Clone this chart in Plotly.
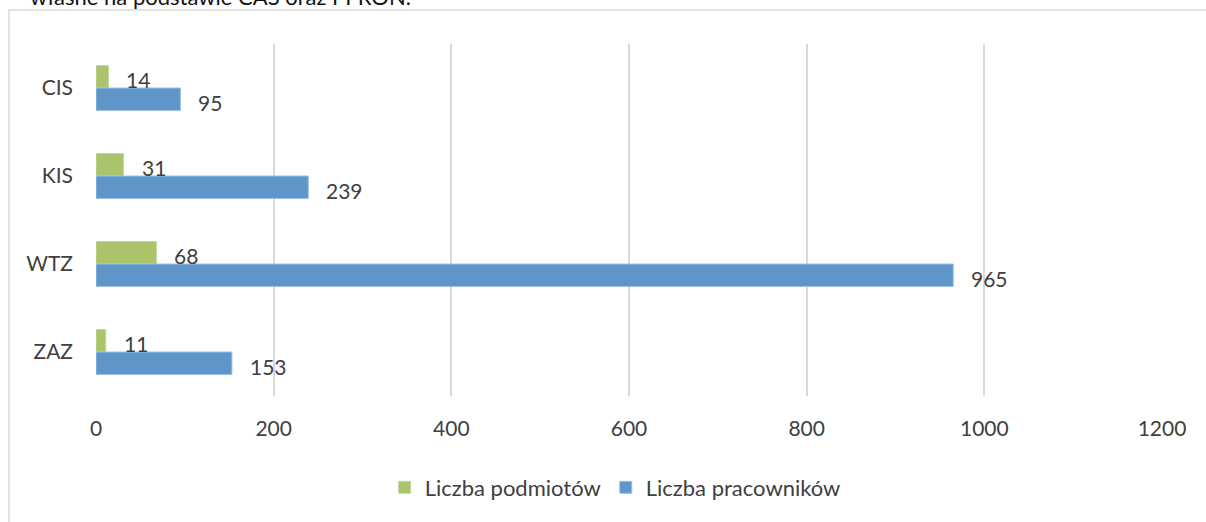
import plotly.graph_objects as go

# Data
categories = ["CIS", "KIS", "WTZ", "ZAZ"]
podmioty = [14, 31, 68, 11]
pracownicy = [95, 239, 965, 153]
x_ticks = [0, 200, 400, 600, 800, 1000, 1200]

GREEN = "#A9C46B"
BLUE = "#5F96CA"
TXT = "#404040"
FONT = "Lato, Open Sans, sans-serif"
FS = 21

W, H = 1206, 522
ML, MR, MT, MB = 96, 44, 44, 126
PW, PH = W - ML - MR, H - MT - MB

fig = go.Figure()
fig.add_trace(go.Bar(
    y=categories, x=podmioty, orientation="h", name="Liczba podmiotów",
    marker=dict(color=GREEN, line=dict(color="#C4D89A", width=1)),
))
fig.add_trace(go.Bar(
    y=categories, x=pracownicy, orientation="h", name="Liczba pracowników",
    marker=dict(color=BLUE, line=dict(color="#9DC0E2", width=1)),
))

# Value labels just past the end of each bar
annotations = []
for cat, v in zip(categories, podmioty):
    annotations.append(dict(x=v, y=cat, xref="x", yref="y", text=str(v),
                            showarrow=False, xanchor="left", yanchor="middle",
                            xshift=16, yshift=9,
                            font=dict(family=FONT, size=FS, color=TXT)))
for cat, v in zip(categories, pracownicy):
    annotations.append(dict(x=v, y=cat, xref="x", yref="y", text=str(v),
                            showarrow=False, xanchor="left", yanchor="middle",
                            xshift=16, yshift=-14,
                            font=dict(family=FONT, size=FS, color=TXT)))

# Caption line from the page above the chart
annotations.append(dict(x=(28 - ML) / PW, y=1 + (MT - 12) / PH, xref="paper", yref="paper",
                        text="własne na podstawie CAS oraz PFRON.", showarrow=False,
                        xanchor="left", yanchor="bottom",
                        font=dict(family=FONT, size=22, color="#111111")))

fig.update_layout(
    width=W, height=H,
    margin=dict(l=ML, r=MR, t=MT, b=MB),
    paper_bgcolor="white", plot_bgcolor="white",
    barmode="group", bargap=0.49, bargroupgap=0,
    font=dict(family=FONT, size=FS, color=TXT),
    showlegend=True,
    legend=dict(orientation="h", x=0.487, xanchor="center", y=-0.26, yanchor="middle",
                traceorder="normal", font=dict(family=FONT, size=22, color=TXT),
                itemwidth=30),
    annotations=annotations,
    shapes=[dict(type="rect", xref="paper", yref="paper",
                 x0=(9 - ML) / PW, x1=(W + 5 - ML) / PW,
                 y0=-(MB + 10) / PH, y1=1 + (MT - 10) / PH,
                 line=dict(color="#D9D9D9", width=1.5), fillcolor="rgba(0,0,0,0)",
                 layer="below")],
)
fig.update_xaxes(range=[0, 1200], tickvals=x_ticks, showgrid=True, gridcolor="#D9D9D9",
                 gridwidth=2, zeroline=False, showline=False, ticks="", ticklen=0,
                 ticklabelstandoff=18,
                 tickfont=dict(family=FONT, size=FS, color=TXT))
fig.update_yaxes(autorange="reversed", showgrid=False, showline=False, ticks="",
                 ticklabelstandoff=22,
                 tickfont=dict(family=FONT, size=FS, color=TXT))

fig.write_html("out.html")
